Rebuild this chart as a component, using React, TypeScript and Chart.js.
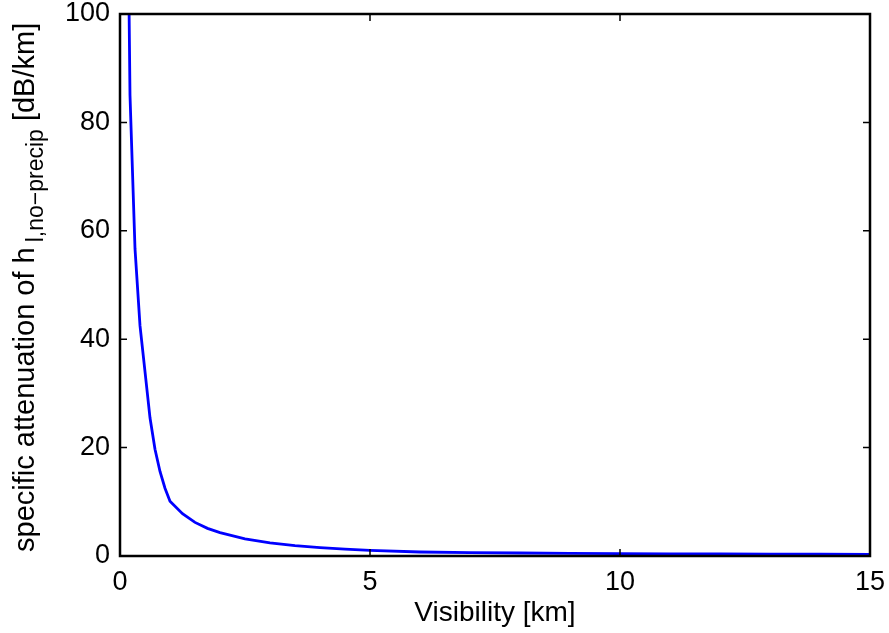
import React, { useEffect, useRef } from "react";
import { Chart, registerables } from "chart.js";

Chart.register(...registerables);

const visibility = [0.1, 0.2, 0.3, 0.4, 0.5, 0.6, 0.7, 0.8, 0.9, 1.0, 1.25, 1.5, 1.75, 2, 2.5, 3, 3.5, 4, 4.5, 5, 6, 7, 8, 9, 10, 11, 12, 13, 14, 15];
const attenuation = [170, 85, 56.7, 42.5, 34, 25.5, 19.7, 15.6, 12.5, 10.1, 7.8, 6.2, 5.1, 4.3, 3.16, 2.42, 1.91, 1.54, 1.26, 1.04, 0.74, 0.63, 0.55, 0.49, 0.44, 0.4, 0.37, 0.34, 0.32, 0.29];
const xTicks = [0, 5, 10, 15];
const yTicks = [0, 20, 40, 60, 80, 100];

const FONT = "'Liberation Sans', Arial, Helvetica, sans-serif";

const framePlugin = {
  id: "frame",
  afterDraw(chart: any) {
    const { ctx, chartArea: a, scales } = chart;
    const xs = scales.x;
    const ys = scales.y;
    ctx.save();
    ctx.strokeStyle = "#000";
    ctx.lineWidth = 2.5;
    ctx.strokeRect(a.left, a.top, a.right - a.left, a.bottom - a.top);
    ctx.lineWidth = 1.5;
    const tl = 7;
    ctx.beginPath();
    for (const t of xTicks) {
      const px = xs.getPixelForValue(t);
      ctx.moveTo(px, a.bottom);
      ctx.lineTo(px, a.bottom - tl);
      ctx.moveTo(px, a.top);
      ctx.lineTo(px, a.top + tl);
    }
    for (const t of yTicks) {
      const py = ys.getPixelForValue(t);
      ctx.moveTo(a.left, py);
      ctx.lineTo(a.left + tl, py);
      ctx.moveTo(a.right, py);
      ctx.lineTo(a.right - tl, py);
    }
    ctx.stroke();

    // y axis title with subscript
    const main1 = "specific attenuation of h";
    const sub = "l,no\u2212precip";
    const main2 = " [dB/km]";
    const bigFont = `29px ${FONT}`;
    const smallFont = `23px ${FONT}`;
    ctx.font = bigFont;
    const w1 = ctx.measureText(main1).width;
    ctx.font = smallFont;
    const w2 = ctx.measureText(sub).width;
    ctx.translate(34, 552);
    ctx.rotate(-Math.PI / 2);
    ctx.fillStyle = "#000";
    ctx.textBaseline = "alphabetic";
    ctx.textAlign = "left";
    let sx = 0;
    ctx.font = bigFont;
    ctx.fillText(main1, sx, 0);
    sx += w1 + 5;
    ctx.font = smallFont;
    ctx.fillText(sub, sx, 9);
    sx += w2;
    ctx.font = bigFont;
    ctx.fillText(main2, sx, 0);
    ctx.restore();
  },
};

export default function App() {
  const ref = useRef<HTMLCanvasElement>(null);
  useEffect(() => {
    const canvas = ref.current!;
    const chart = new Chart(canvas, {
      type: "line",
      data: {
        datasets: [
          {
            data: visibility.map((v, i) => ({ x: v, y: attenuation[i] })),
            borderColor: "#0000ff",
            borderWidth: 2.8,
            pointRadius: 0,
            tension: 0,
            fill: false,
          },
        ],
      },
      plugins: [framePlugin],
      options: {
        animation: false,
        responsive: false,
        maintainAspectRatio: false,
        layout: { padding: { left: 0, right: 19, top: 14, bottom: 0 } },
        plugins: { legend: { display: false }, tooltip: { enabled: false } },
        scales: {
          x: {
            type: "linear",
            min: 0,
            max: 15,
            afterBuildTicks: (s: any) => {
              s.ticks = xTicks.map((v) => ({ value: v }));
            },
            grid: { display: false, drawTicks: false },
            border: { display: false },
            ticks: { color: "#000", font: { family: FONT, size: 27 }, padding: 10, maxRotation: 0 },
            title: { display: true, text: "Visibility [km]", color: "#000", font: { family: FONT, size: 28 }, padding: { top: 0, bottom: 3 } },
            afterFit: (s: any) => {
              s.height = 77;
              s.paddingLeft = 0;
              s.paddingRight = 0;
            },
          },
          y: {
            type: "linear",
            min: 0,
            max: 100,
            afterBuildTicks: (s: any) => {
              s.ticks = yTicks.map((v) => ({ value: v }));
            },
            grid: { display: false, drawTicks: false },
            border: { display: false },
            ticks: { color: "#000", font: { family: FONT, size: 27 }, padding: 10 },
            afterFit: (s: any) => {
              s.width = 120;
              s.paddingTop = 0;
              s.paddingBottom = 0;
            },
          },
        },
      },
    });
    return () => chart.destroy();
  }, []);
  return (
    <div style={{ position: "fixed", left: 0, top: 0, width: 889, height: 633, background: "#fff" }}>
      <canvas ref={ref} width={889} height={633} style={{ width: 889, height: 633 }} />
    </div>
  );
}
